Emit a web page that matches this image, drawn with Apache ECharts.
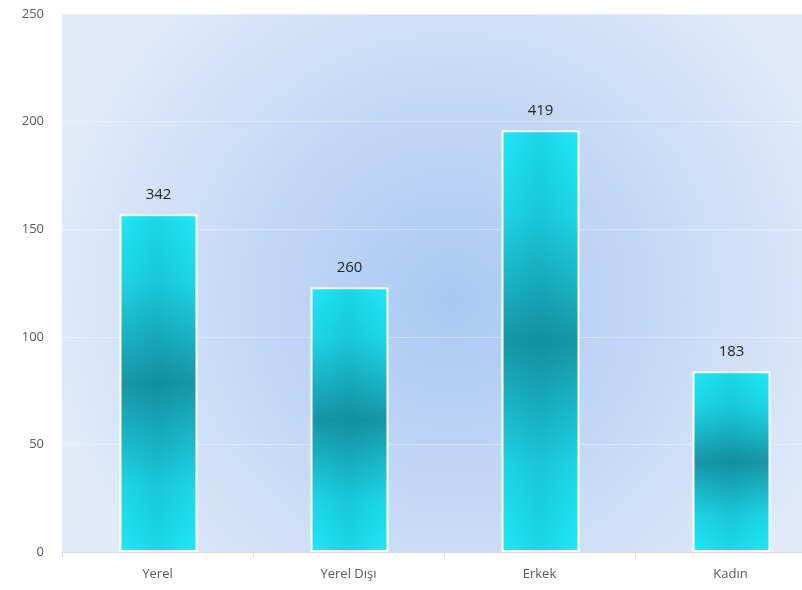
<!DOCTYPE html>
<html>
<head>
<meta charset="utf-8">
<script src="https://cdn.jsdelivr.net/npm/echarts@6/dist/echarts.min.js"></script>
<style>html,body{margin:0;padding:0;background:#fff;overflow:hidden}#c{width:826px;height:590px}</style>
</head>
<body>
<div id="c"></div>
<script>
const categories = ['Yerel', 'Yerel Dışı', 'Erkek', 'Kadın'];
const barValues = [157, 123, 196, 84];
const labelValues = [342, 260, 419, 183];
const yTicks = { min: 0, max: 250, interval: 50 };

const chart = echarts.init(document.getElementById('c'), null, { renderer: 'canvas' });
chart.setOption({
  animation: false,
  grid: {
    left: 62, right: 0, top: 14, bottom: 38,
    show: true, borderWidth: 0,
    backgroundColor: {
      type: 'radial', x: 0.51, y: 0.53, r: 0.75,
      colorStops: [
        { offset: 0, color: '#a9c9f3' },
        { offset: 0.5, color: '#c4d8f5' },
        { offset: 1, color: '#e0eafa' }
      ]
    }
  },
  xAxis: {
    type: 'category',
    data: categories,
    axisLine: { show: true, lineStyle: { color: '#d9d9d9' } },
    axisTick: { show: true, length: 5, lineStyle: { color: '#d9d9d9' } },
    axisLabel: { color: '#595959', fontSize: 13, fontFamily: 'Open Sans', margin: 16 }
  },
  yAxis: {
    type: 'value',
    min: yTicks.min, max: yTicks.max, interval: yTicks.interval,
    axisLine: { show: false },
    axisTick: { show: false },
    axisLabel: { color: '#595959', fontSize: 13, fontFamily: 'Open Sans', margin: 18 },
    splitLine: { lineStyle: { color: 'rgba(255,255,255,0.35)' } }
  },
  series: [{
    type: 'bar',
    data: barValues,
    barWidth: 78,
    itemStyle: {
      borderColor: '#ffffff', borderWidth: 2,
      color: {
        type: 'linear', x: 0, y: 0, x2: 0, y2: 1,
        colorStops: [
          { offset: 0, color: '#1ee8f8' },
          { offset: 0.2, color: '#1cd6e6' },
          { offset: 0.5, color: '#1697a7' },
          { offset: 0.8, color: '#1cd6e6' },
          { offset: 1, color: '#1ee8f8' }
        ]
      }
    },
    label: {
      show: true, position: 'top', distance: 12,
      color: '#262626', fontSize: 15, fontFamily: 'Open Sans',
      formatter: p => String(labelValues[p.dataIndex])
    }
  }, {
    type: 'bar',
    data: barValues,
    barWidth: 76,
    barGap: '-100%',
    silent: true,
    itemStyle: {
      color: {
        type: 'linear', x: 0, y: 0, x2: 1, y2: 0,
        colorStops: [
          { offset: 0, color: 'rgba(0,60,80,0)' },
          { offset: 0.5, color: 'rgba(0,60,80,0.1)' },
          { offset: 1, color: 'rgba(0,60,80,0)' }
        ]
      }
    },
    label: { show: false }
  }]
});
</script>
</body>
</html>
